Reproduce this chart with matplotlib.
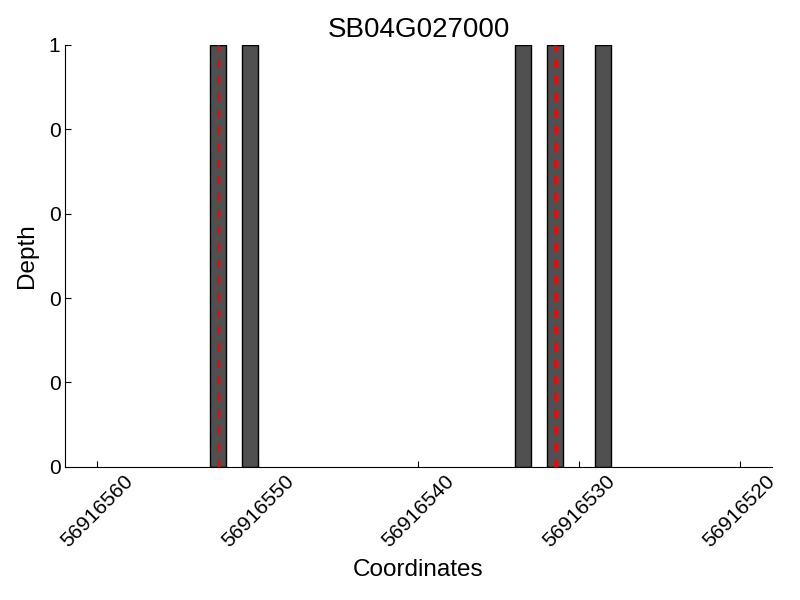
import matplotlib
matplotlib.use("Agg")
import matplotlib.pyplot as plt
from matplotlib.ticker import FormatStrFormatter

plt.rcParams['font.family'] = ['Liberation Sans', 'DejaVu Sans']

title = "SB04G027000"
positions = [56916552.5, 56916550.5, 56916533.5, 56916531.5, 56916528.5]
depths = [1, 1, 1, 1, 1]
marker_lines = [56916552.5, 56916531.5]
xticks = [56916560, 56916550, 56916540, 56916530, 56916520]
yticks = [0, 0.2, 0.4, 0.6, 0.8, 1.0]

fig = plt.figure(figsize=(8, 6), dpi=100)
ax = fig.add_axes([0.0816, 0.222, 0.883, 0.703])

ax.bar(positions, depths, width=1.0, color='#505050', edgecolor='black', linewidth=1.0)
for m in marker_lines:
    ax.axvline(m, color='red', linestyle=(0, (3, 3)), linewidth=2)

ax.set_xlim(56916562, 56916518)
ax.set_ylim(0, 1)
ax.set_xticks(xticks)
ax.set_xticklabels([str(t) for t in xticks], rotation=45, fontsize=15)
ax.set_yticks(yticks)
ax.yaxis.set_major_formatter(FormatStrFormatter('%d'))
ax.tick_params(axis='y', labelsize=15)
ax.tick_params(direction='in', length=4, top=False, right=False)

for s in ['top', 'right']:
    ax.spines[s].set_visible(False)

ax.set_title(title, fontsize=20)
ax.set_xlabel("Coordinates", fontsize=17.5, labelpad=6)
ax.set_ylabel("Depth", fontsize=17.5, labelpad=8)

fig.savefig("out.png", dpi=100)
